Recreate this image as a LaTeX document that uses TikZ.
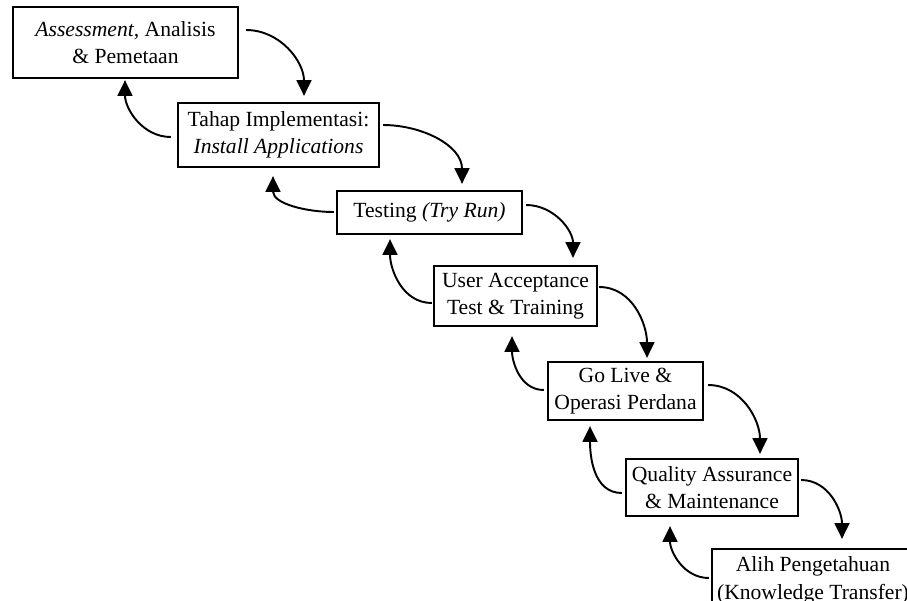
\documentclass[tikz,border=0pt]{standalone}
\usepackage{fontspec}
\setmainfont{Liberation Serif}
\usetikzlibrary{arrows.meta}

\begin{document}
\begin{tikzpicture}[
  x=0.02cm, y=-0.02cm,
  box/.style={rectangle, draw, line width=1.3pt, fill=white, inner sep=1pt,
              font=\fontsize{12.3}{15.6}\selectfont, align=center},
  arr/.style={-{Triangle[length=9pt,width=8.5pt]}, line width=1.1pt},
]
  \clip (0,0) rectangle (907,600);
  \fill[white] (0,0) rectangle (907,600);
  % stages
  \node[box, minimum width=4.5cm, minimum height=1.42cm] (b1) at (125.5,42.5)
    {\textit{Assessment,} Analisis\\\& Pemetaan};
  \node[box, minimum width=4.02cm, minimum height=1.28cm] (b2) at (278.5,135)
    {Tahap Implementasi:\\\textit{Install Applications}};
  \node[box, minimum width=3.7cm, minimum height=0.86cm] (b3) at (429.5,212.5)
    {Testing \textit{(Try Run)}};
  \node[box, minimum width=3.26cm, minimum height=1.2cm] (b4) at (515.5,296)
    {User Acceptance\\Test \& Training};
  \node[box, minimum width=3.1cm, minimum height=1.16cm] (b5) at (625.5,391)
    {Go Live \&\\Operasi Perdana};
  \node[box, minimum width=3.44cm, minimum height=1.14cm] (b6) at (712,487.5)
    {Quality Assurance\\\& Maintenance};
  \node[box, minimum width=4.04cm, minimum height=1.26cm] (b7) at (813,580.5)
    {Alih Pengetahuan\\(Knowledge Transfer)};
  % forward
  \draw[arr] ([shift={(7,-12.5)}]b1.east) to[out=0,in=90] ([shift={(25.5,-6)}]b2.north);
  \draw[arr] ([shift={(3,-10)}]b2.east) to[out=0,in=90] ([shift={(32.5,-6)}]b3.north);
  \draw[arr] ([shift={(3,-7.5)}]b3.east) to[out=0,in=90] ([shift={(57.5,-7)}]b4.north);
  \draw[arr] ([shift={(1,-9)}]b4.east) to[out=0,in=90] ([shift={(21.5,-3)}]b5.north);
  \draw[arr] ([shift={(4,-6)}]b5.east) to[out=0,in=90] ([shift={(48,-4)}]b6.north);
  \draw[arr] ([shift={(2,-7.5)}]b6.east) to[out=0,in=90] ([shift={(29,-9)}]b7.north);
  % back
  \draw[arr] ([shift={(-6,2)}]b2.west) to[out=180,in=-90] ([shift={(-0.5,1)}]b1.south);
  \draw[arr] ([shift={(-2,-0.5)}]b3.west) to[out=180,in=-90] ([shift={(-5.5,8)}]b2.south);
  \draw[arr] ([shift={(-1,7)}]b4.west) to[out=180,in=-90] ([shift={(-39.5,4)}]b3.south);
  \draw[arr] ([shift={(-3,-1)}]b5.west) to[out=180,in=-90] ([shift={(-3.5,9)}]b4.south);
  \draw[arr] ([shift={(-3,5.5)}]b6.west) to[out=180,in=-90] ([shift={(-35.5,5)}]b5.south);
  \draw[arr] ([shift={(-2,-2.5)}]b7.west) to[out=180,in=-90] ([shift={(-42,9)}]b6.south);
\end{tikzpicture}
\end{document}
